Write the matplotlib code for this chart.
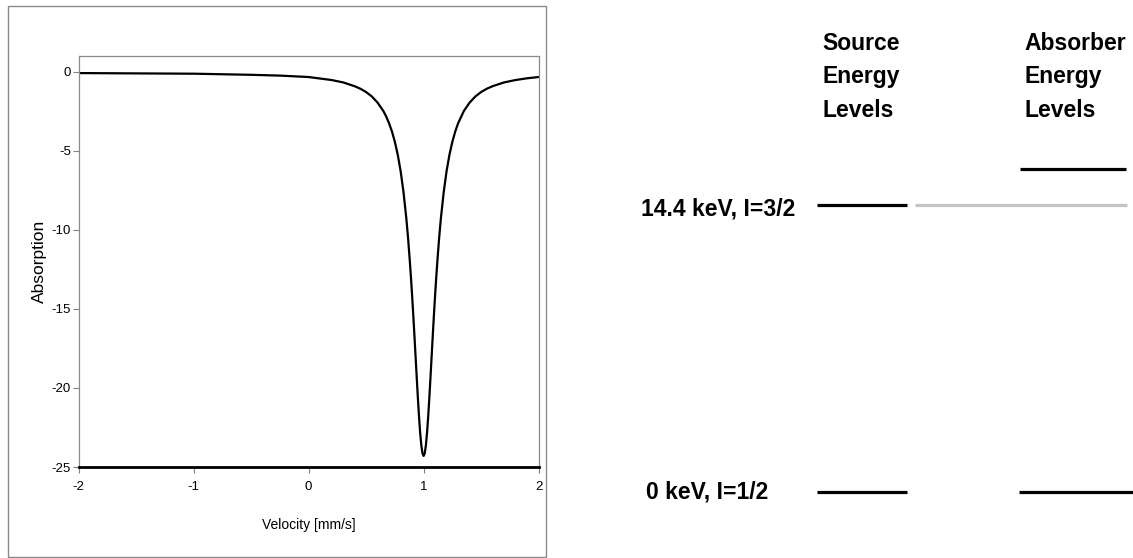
import matplotlib
matplotlib.use("Agg")
import matplotlib.pyplot as plt
from matplotlib.patches import Rectangle

# ---------------- data ----------------
velocity = [-2.0, -1.5, -1.0, -0.5, -0.25, 0.0, 0.2, 0.3, 0.4, 0.45, 0.5,
            0.55, 0.6, 0.65, 0.675, 0.7, 0.725, 0.75, 0.775, 0.8, 0.825,
            0.85, 0.865, 0.88, 0.89, 0.9, 0.91, 0.92, 0.93, 0.94, 0.95, 0.96,
            0.97, 0.98, 0.99, 1.0, 1.01, 1.02, 1.03, 1.04, 1.05, 1.06, 1.07,
            1.08, 1.09, 1.1, 1.11, 1.12, 1.135, 1.15, 1.175, 1.2, 1.225,
            1.25, 1.275, 1.3, 1.35, 1.4, 1.45, 1.5, 1.55, 1.6, 1.7, 1.8,
            1.9, 2.0]
absorption = [-0.08, -0.10, -0.12, -0.19, -0.24, -0.33, -0.52, -0.67, -0.91,
              -1.07, -1.28, -1.56, -1.95, -2.48, -2.83, -3.26, -3.78, -4.43,
              -5.24, -6.27, -7.60, -9.29, -10.52, -11.95, -13.00, -14.14,
              -15.36, -16.65, -17.98, -19.31, -20.60, -21.80, -22.83, -23.62,
              -24.13, -24.30, -24.13, -23.62, -22.83, -21.80, -20.60, -19.31,
              -17.98, -16.65, -15.36, -14.14, -13.00, -11.95, -10.52, -9.29,
              -7.60, -6.27, -5.24, -4.43, -3.78, -3.26, -2.48, -1.95, -1.56,
              -1.28, -1.07, -0.91, -0.67, -0.52, -0.41, -0.33]
x_ticks = [-2, -1, 0, 1, 2]
y_ticks = [0, -5, -10, -15, -20, -25]

level_labels = ["14.4 keV, I=3/2", "0 keV, I=1/2"]
level_energy = [14.4, 0.0]             # source levels (diagram units)
absorber_energy = [16.2, 0.0]          # absorber levels, shifted excited state
column_titles = ["Source\nEnergy\nLevels", "Absorber\nEnergy\nLevels"]

# ---------------- figure ----------------
W, H = 1133, 558
fig = plt.figure(figsize=(W / 100, H / 100), dpi=100)
fig.patch.set_facecolor("white")

sans = ["Liberation Sans", "DejaVu Sans"]

# frame around the left panel
fig.patches.append(Rectangle((8 / W, 1 / H), 538 / W, 551 / H,
                             transform=fig.transFigure, fill=False,
                             edgecolor="#8a8a8a", linewidth=1.0))

ax = fig.add_axes([78.6 / W, 91 / H, 460 / W, 411 / H])
ax.plot(velocity, absorption, color="black", linewidth=1.6)
ax.set_xlim(-2, 2)
ax.set_ylim(-25, 1)
ax.set_xticks(x_ticks)
ax.set_yticks(y_ticks)
ax.set_xticklabels([str(t) for t in x_ticks], fontfamily=sans, fontsize=9.5)
ax.set_yticklabels([str(t) for t in y_ticks], fontfamily=sans, fontsize=9.5)
ax.tick_params(axis="both", direction="out", length=4, width=0.8,
               color="#808080")
ax.tick_params(axis="x", pad=6)
ax.tick_params(axis="y", pad=1.5)
for side in ["left", "top", "right"]:
    ax.spines[side].set_color("#8a8a8a")
    ax.spines[side].set_linewidth(0.9)
ax.spines["bottom"].set_color("black")
ax.spines["bottom"].set_linewidth(2.0)
ax.set_xlabel("Velocity [mm/s]", fontfamily=sans, fontsize=10, labelpad=18)
ax.set_ylabel("Absorption", fontfamily=sans, fontsize=12.5, labelpad=3)

# ---------------- energy level diagram ----------------
e_per_px = 14.4 / (492 - 205)
ax2 = fig.add_axes([0, 0, 1, 1], facecolor="none")
ax2.set_xlim(0, W)
ax2.set_ylim(-(H - 492) * e_per_px, 492 * e_per_px)
ax2.axis("off")

src_x = (817, 907)
bold = dict(fontfamily=sans, fontweight="bold", fontsize=16.5, color="black")

# source levels
for e in level_energy:
    ax2.plot(src_x, [e, e], color="black", linewidth=2.3, solid_capstyle="butt")
# source excited level carried over to the absorber column
ax2.plot((915, 1127), [level_energy[0]] * 2, color="#c4c4c4", linewidth=2.3,
         solid_capstyle="butt")
# absorber levels
ax2.plot((1020, 1126), [absorber_energy[0]] * 2, color="black", linewidth=2.3,
         solid_capstyle="butt")
ax2.plot((1019, 1133), [absorber_energy[1]] * 2, color="black", linewidth=2.3,
         solid_capstyle="butt")

label_x = [641, 646]
baseline_px = [11, 7]
for lbl, e, lx, bp in zip(level_labels, level_energy, label_x, baseline_px):
    ax2.text(lx, e - bp * e_per_px, lbl, ha="left", va="baseline", **bold)

title_x = [822, 1024]
for t, tx in zip(column_titles, title_x):
    ax2.text(tx, (492 - 32) * e_per_px, t, ha="left", va="top",
             linespacing=1.58, **bold)

fig.savefig("out.png", dpi=100, facecolor="white")
